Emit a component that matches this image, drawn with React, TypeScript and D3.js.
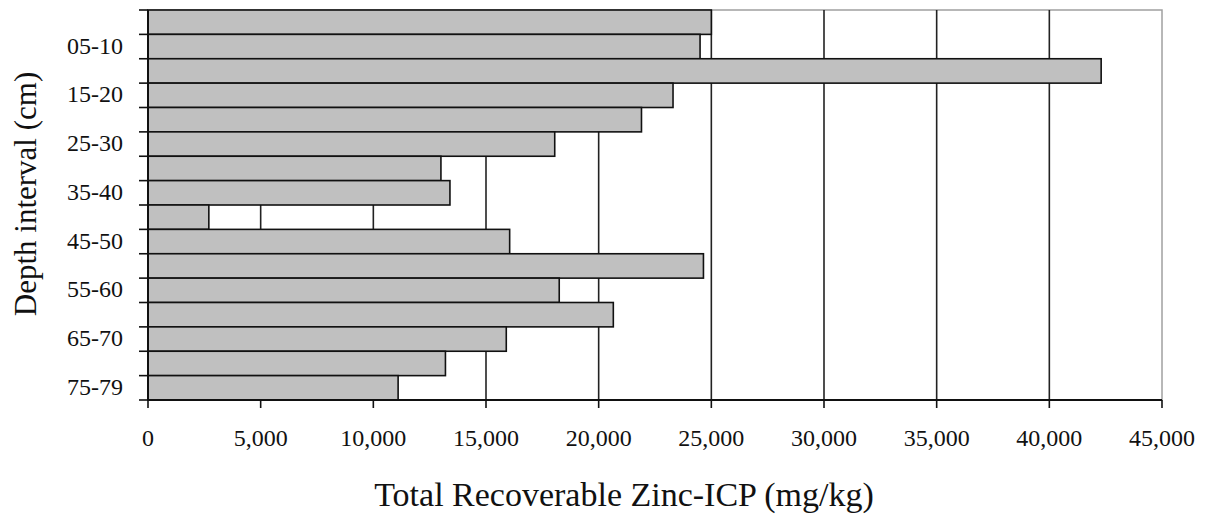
import React, { useEffect, useRef } from "react";
import * as d3 from "d3";

// depth intervals, top to bottom
const depthIntervals = [
  "00-05", "05-10", "10-15", "15-20", "20-25", "25-30", "30-35", "35-40",
  "40-45", "45-50", "50-55", "55-60", "60-65", "65-70", "70-75", "75-79",
];

// Total Recoverable Zinc-ICP (mg/kg) per interval
const zincValues = [
  25000, 24500, 42300, 23300, 21900, 18050, 13000, 13400,
  2700, 16050, 24650, 18250, 20650, 15900, 13200, 11100,
];

const xTicks = [0, 5000, 10000, 15000, 20000, 25000, 30000, 35000, 40000, 45000];

const W = 1206;
const H = 518;
const plot = { left: 148, right: 1162, top: 10, bottom: 400 };
const serif = "Liberation Serif, DejaVu Serif, serif";

const App: React.FC = () => {
  const svgRef = useRef<SVGSVGElement>(null);

  useEffect(() => {
    if (!svgRef.current) return;
    const svg = d3.select(svgRef.current);
    svg.selectAll("*").remove();

    const x = d3.scaleLinear().domain([0, 45000]).range([plot.left, plot.right]);
    const y = d3
      .scaleBand<string>()
      .domain(depthIntervals)
      .range([plot.top, plot.bottom])
      .paddingInner(0)
      .paddingOuter(0);

    // plot frame (top/right are light grey)
    svg
      .append("rect")
      .attr("x", plot.left)
      .attr("y", plot.top)
      .attr("width", plot.right - plot.left)
      .attr("height", plot.bottom - plot.top)
      .attr("fill", "#fff")
      .attr("stroke", "#a0a0a0")
      .attr("stroke-width", 1.5);

    // vertical gridlines
    svg
      .append("g")
      .selectAll("line")
      .data(xTicks.filter((t) => t > 0 && t < 45000))
      .join("line")
      .attr("x1", (d) => x(d))
      .attr("x2", (d) => x(d))
      .attr("y1", plot.top)
      .attr("y2", plot.bottom)
      .attr("stroke", "#222")
      .attr("stroke-width", 1.6);

    // bars
    svg
      .append("g")
      .selectAll("rect")
      .data(zincValues)
      .join("rect")
      .attr("x", x(0))
      .attr("y", (_d, i) => y(depthIntervals[i])!)
      .attr("width", (d) => x(d) - x(0))
      .attr("height", y.bandwidth())
      .attr("fill", "#c0c0c0")
      .attr("stroke", "#111")
      .attr("stroke-width", 1.6);

    // axes lines
    svg
      .append("line")
      .attr("x1", plot.left)
      .attr("x2", plot.left)
      .attr("y1", plot.top)
      .attr("y2", plot.bottom)
      .attr("stroke", "#111")
      .attr("stroke-width", 2);
    svg
      .append("line")
      .attr("x1", plot.left)
      .attr("x2", plot.right)
      .attr("y1", plot.bottom)
      .attr("y2", plot.bottom)
      .attr("stroke", "#111")
      .attr("stroke-width", 2);

    // y ticks at band boundaries
    const boundaries = depthIntervals.map((c) => y(c)!).concat([plot.bottom]);
    svg
      .append("g")
      .selectAll("line")
      .data(boundaries)
      .join("line")
      .attr("x1", plot.left - 9)
      .attr("x2", plot.left)
      .attr("y1", (d) => d)
      .attr("y2", (d) => d)
      .attr("stroke", "#111")
      .attr("stroke-width", 1.6);

    // y labels (every other interval)
    svg
      .append("g")
      .selectAll("text")
      .data(depthIntervals.filter((_c, i) => i % 2 === 1))
      .join("text")
      .attr("x", 123)
      .attr("y", (d) => y(d)! + y.bandwidth() / 2 + 7)
      .attr("text-anchor", "end")
      .style("font-family", serif)
      .attr("font-size", 24)
      .attr("fill", "#111")
      .text((d) => d);

    // x ticks
    svg
      .append("g")
      .selectAll("line")
      .data(xTicks)
      .join("line")
      .attr("x1", (d) => x(d))
      .attr("x2", (d) => x(d))
      .attr("y1", plot.bottom)
      .attr("y2", plot.bottom + 8)
      .attr("stroke", "#111")
      .attr("stroke-width", 1.6);

    const fmt = d3.format(",");
    svg
      .append("g")
      .selectAll("text")
      .data(xTicks)
      .join("text")
      .attr("x", (d) => x(d))
      .attr("y", 446)
      .attr("text-anchor", "middle")
      .style("font-family", serif)
      .attr("font-size", 24)
      .attr("fill", "#111")
      .text((d) => fmt(d));

    // axis titles
    svg
      .append("text")
      .attr("x", 624)
      .attr("y", 506)
      .attr("text-anchor", "middle")
      .style("font-family", serif)
      .attr("font-size", 34)
      .attr("fill", "#111")
      .text("Total Recoverable Zinc-ICP (mg/kg)");

    svg
      .append("text")
      .attr("transform", "translate(36,194) rotate(-90)")
      .attr("text-anchor", "middle")
      .style("font-family", serif)
      .attr("font-size", 31)
      .attr("fill", "#111")
      .text("Depth interval (cm)");
  }, []);

  return (
    <svg
      ref={svgRef}
      width={W}
      height={H}
      style={{ position: "absolute", left: 0, top: 0, background: "#fff" }}
    />
  );
};

export default App;
